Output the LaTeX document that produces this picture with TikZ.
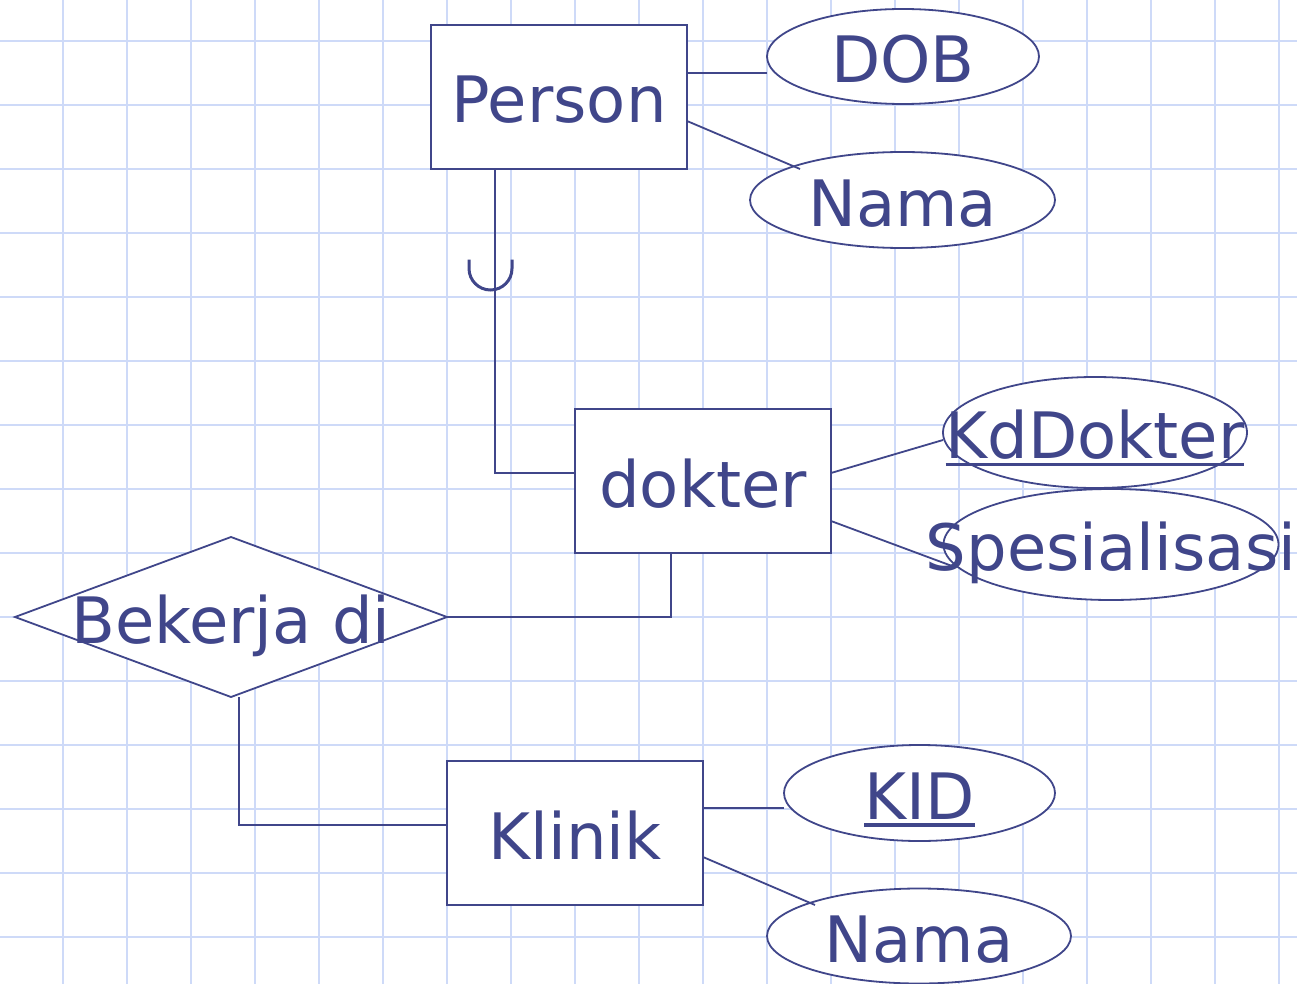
\documentclass[tikz,border=0pt]{standalone}
\usepackage{fontspec}
\setmainfont{DejaVu Sans}
\usetikzlibrary{shapes.geometric}
\definecolor{erink}{RGB}{64,70,138}
\definecolor{gridblue}{RGB}{206,218,248}
% key attribute: text with a rule underneath
\newcommand{\keyattr}[1]{\setbox0=\hbox{#1}\rlap{\copy0}\rule[-7.5pt]{\wd0}{3.5pt}}
\begin{document}
\begin{tikzpicture}[x=1pt,y=-1pt,
  every node/.style={font=\fontsize{64}{70}\selectfont, text=erink,
    inner sep=0pt, outer sep=0pt, text height=52pt, text depth=0pt},
  entity/.style={draw=erink, line width=2pt, fill=white, rectangle,
    minimum width=256pt, minimum height=144pt},
  attr/.style={draw=erink, line width=1.8pt, fill=white, ellipse},
  rel/.style={draw=erink, line width=1.8pt, fill=white, diamond},
  link/.style={draw=erink, line width=1.8pt},
  isa/.style={draw=erink, line width=3pt},
  gridline/.style={draw=gridblue, line width=2pt}
]
\useasboundingbox (0,0) rectangle (1297,984);
\fill[white] (0,0) rectangle (1297,984);

% squared paper
\foreach \gx in {63,127,...,1279} \draw[gridline] (\gx,0) -- (\gx,984);
\foreach \gy in {41,105,...,937} \draw[gridline] (0,\gy) -- (1297,\gy);

% entities
\node[entity] (person) at (559,97) {Person};
\node[entity] (dokter) at (703,481) {dokter};
\node[entity] (klinik) at (575,833) {Klinik};

% relationship
\node[rel, minimum width=432pt, minimum height=160pt] (bekerja) at (231,617) {\makebox[0pt]{Bekerja di}};

% attributes
\node[attr, minimum width=272pt, minimum height=95pt] (dob) at (903,56.5) {\makebox[0pt]{DOB}};
\node[attr, minimum width=305pt, minimum height=96pt] (nama1) at (902.5,200) {\makebox[0pt]{Nama}};
\node[attr, minimum width=304pt, minimum height=111pt] (kd) at (1095,432.5) {\makebox[0pt]{\keyattr{KdDokter}}};
\node[attr, minimum width=335pt, minimum height=111pt] (spes) at (1111,544.5) {\makebox[0pt]{Spesialisasi}};
\node[attr, minimum width=271pt, minimum height=96pt] (kid) at (919.5,793) {\makebox[0pt]{\keyattr{KID}}};
\node[attr, minimum width=304pt, minimum height=95pt] (nama2) at (919,936) {\makebox[0pt]{Nama}};

% Person attributes
\coordinate (pdob) at ([shift={(0,-24)}]person.east);
\draw[link] (pdob) -- (pdob -| dob.west);
\draw[link] ([shift={(0,24)}]person.east) -- ([shift={(-102.5,-31)}]nama1.center);

% specialisation Person -> dokter with subset mark
\draw[link] ([shift={(-64,0)}]person.south) |- ([shift={(0,-8)}]dokter.west);
\coordinate (isatop) at (490.5,268.5);
\draw[isa] ([shift={(-21.5,-9)}]isatop) -- ++(0,9)
  arc[start angle=180, end angle=360, radius=21.5pt] -- ++(0,-9);

% dokter attributes
\draw[link] ([shift={(0,-8)}]dokter.east) -- ([shift={(-152,7.5)}]kd.center);
\draw[link] ([shift={(0,40)}]dokter.east) -- ([shift={(-159,21.5)}]spes.center);

% relationship links
\draw[link] (bekerja.east) -| ([shift={(-32,0)}]dokter.south);
\draw[link] ([shift={(8,0)}]bekerja.south) |- ([shift={(0,-8)}]klinik.west);

% Klinik attributes
\coordinate (kkid) at ([shift={(0,-25)}]klinik.east);
\draw[link] (kkid) -- (kkid -| kid.west);
\draw[link] ([shift={(0,24)}]klinik.east) -- ([shift={(-104,-31)}]nama2.center);
\end{tikzpicture}
\end{document}
